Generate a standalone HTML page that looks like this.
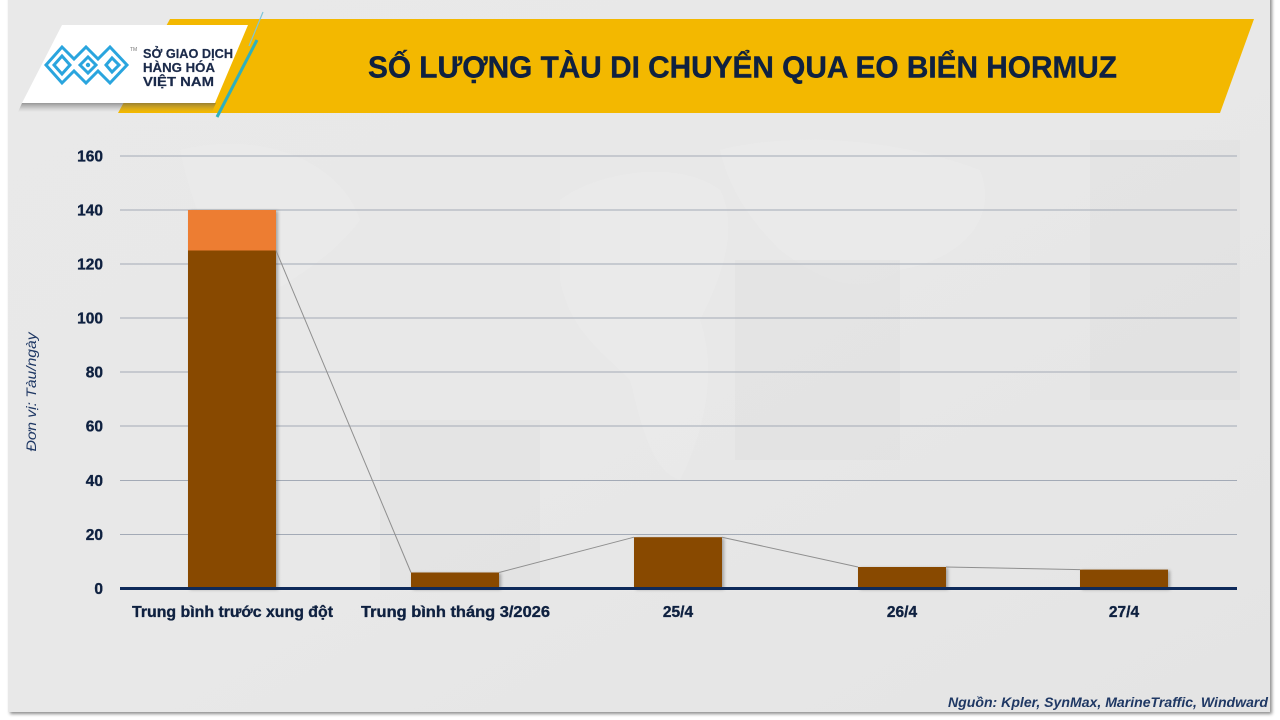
<!DOCTYPE html>
<html>
<head>
<meta charset="utf-8">
<style>
html,body{margin:0;padding:0;background:#ffffff;}
body{width:1280px;height:720px;overflow:hidden;}
svg{display:block;}
</style>
</head>
<body>
<svg width="1280" height="720" viewBox="0 0 1280 720" xmlns="http://www.w3.org/2000/svg">
  <defs>
    <linearGradient id="bg" x1="0" y1="0" x2="1" y2="1">
      <stop offset="0" stop-color="#e9e9e9"/>
      <stop offset="0.5" stop-color="#e8e8e8"/>
      <stop offset="1" stop-color="#e4e4e4"/>
    </linearGradient>
    <linearGradient id="shadowGrad" x1="0" y1="0" x2="0" y2="1">
      <stop offset="0" stop-color="#555" stop-opacity="0.7"/>
      <stop offset="1" stop-color="#888" stop-opacity="0"/>
    </linearGradient>
    <filter id="barShadow" x="-10%" y="-10%" width="130%" height="130%">
      <feDropShadow dx="2" dy="1" stdDeviation="1.5" flood-color="#000" flood-opacity="0.3"/>
    </filter>
    <filter id="cardShadow" x="-5%" y="-5%" width="110%" height="110%">
      <feDropShadow dx="2" dy="2" stdDeviation="1.5" flood-color="#000" flood-opacity="0.45"/>
    </filter>
  </defs>

  <!-- card -->
  <rect x="8" y="-5" width="1262" height="717" fill="url(#bg)" filter="url(#cardShadow)"/>

  <!-- faint map-like lighter shapes -->
  <g fill="#efefef" opacity="0.35">
    <path d="M560,200 C600,170 680,160 720,190 C740,230 720,280 700,320 C720,380 700,440 680,480 C650,470 640,420 630,380 C600,350 570,330 560,280 Z"/>
    <path d="M720,150 C800,130 900,140 980,170 C1000,220 960,260 900,270 C860,300 820,280 780,250 C750,220 730,190 720,150 Z"/>
    <path d="M180,150 C260,130 340,160 360,220 C330,260 290,280 260,300 C230,280 200,240 180,150 Z"/>
  </g>
  <g fill="#dcdcdc" opacity="0.3">
    <rect x="735" y="260" width="165" height="200"/>
    <rect x="380" y="420" width="160" height="170"/>
    <rect x="1090" y="140" width="150" height="260"/>
  </g>

  <!-- yellow banner -->
  <polygon points="170,19 1254,19 1220,113 118,113" fill="#f3b800"/>

  <!-- white logo plate with shadow -->
  <polygon points="22,103 216,103 212,112 18,112" fill="url(#shadowGrad)" opacity="0.8"/>
  <polygon points="62,25 248,25 215,103 22,103" fill="#ffffff"/>

  <!-- teal lines -->
  <line x1="263" y1="12" x2="249" y2="46" stroke="#7fc6d8" stroke-width="1.2"/>
  <line x1="257" y1="40" x2="217" y2="117" stroke="#2fb0bd" stroke-width="3"/>

  <!-- logo icon -->
  <g fill="none" stroke="#2aa5de" stroke-width="3" stroke-linejoin="miter">
    <path d="M46,65 L62,47 L74,59 L86,47 L98,59 L110,47 L127,65 L110,83 L98,71 L86,83 L74,71 L62,83 Z"/>
    <path d="M54,65 L62,56 L70,65 L62,74 Z"/>
    <path d="M80,65 L88,57 L96,65 L88,73 Z"/>
    <path d="M106,65 L112,58 L119,65 L112,72 Z"/>
  </g>
  <circle cx="88" cy="65" r="2.2" fill="#2aa5de"/>
  <text x="130" y="51" font-family="Liberation Sans, sans-serif" font-size="5" fill="#777">TM</text>

  <!-- logo text -->
  <g font-family="Liberation Sans, sans-serif" font-size="13" font-weight="bold" fill="#1b2a4a" stroke="#1b2a4a" stroke-width="0.2">
    <text x="143" y="58" textLength="90" lengthAdjust="spacingAndGlyphs">SỞ GIAO DỊCH</text>
    <text x="143" y="72" textLength="72" lengthAdjust="spacingAndGlyphs">HÀNG HÓA</text>
    <text x="143" y="86" textLength="71" lengthAdjust="spacingAndGlyphs">VIỆT NAM</text>
  </g>

  <!-- title -->
  <text x="368" y="77.5" font-family="Liberation Sans, sans-serif" font-size="30.5" font-weight="bold" fill="#0f2140" stroke="#0f2140" stroke-width="0.4" textLength="749" lengthAdjust="spacingAndGlyphs">SỐ LƯỢNG TÀU DI CHUYỂN QUA EO BIỂN HORMUZ</text>

  <!-- gridlines -->
  <g stroke="#a3aab6" stroke-width="1">
    <line x1="120" y1="156" x2="1237" y2="156"/>
    <line x1="120" y1="210" x2="1237" y2="210"/>
    <line x1="120" y1="264" x2="1237" y2="264"/>
    <line x1="120" y1="318" x2="1237" y2="318"/>
    <line x1="120" y1="372" x2="1237" y2="372"/>
    <line x1="120" y1="426" x2="1237" y2="426"/>
    <line x1="120" y1="480.5" x2="1237" y2="480.5"/>
    <line x1="120" y1="534.5" x2="1237" y2="534.5"/>
  </g>

  <!-- y labels -->
  <g font-family="Liberation Sans, sans-serif" font-size="15.5" font-weight="bold" fill="#0f2140" stroke="#0f2140" stroke-width="0.35" text-anchor="end">
    <text x="103" y="161.5">160</text>
    <text x="103" y="215.5">140</text>
    <text x="103" y="269.5">120</text>
    <text x="103" y="323.5">100</text>
    <text x="103" y="377.5">80</text>
    <text x="103" y="431.5">60</text>
    <text x="103" y="486">40</text>
    <text x="103" y="540">20</text>
    <text x="103" y="594">0</text>
  </g>

  <!-- y-axis title -->
  <text transform="translate(36,392) rotate(-90)" text-anchor="middle" font-family="Liberation Sans, sans-serif" font-size="14" font-style="italic" fill="#1f3864" textLength="119" lengthAdjust="spacingAndGlyphs">Đơn vị: Tàu/ngày</text>

  <!-- bars -->
  <g filter="url(#barShadow)">
    <rect x="188" y="210" width="88" height="40.5" fill="#ed7d31"/>
    <rect x="188" y="250.5" width="88" height="338" fill="#884a03"/>
    <rect x="411" y="572.5" width="88" height="16" fill="#884a03"/>
    <rect x="634" y="537.2" width="88" height="51.3" fill="#884a03"/>
    <rect x="858" y="567" width="88" height="21.5" fill="#884a03"/>
    <rect x="1080" y="569.6" width="88" height="19" fill="#884a03"/>
  </g>

  <!-- connector lines -->
  <g stroke="#8f8f8f" stroke-width="1" fill="none">
    <line x1="276" y1="250.5" x2="411" y2="572.5"/>
    <line x1="499" y1="572.5" x2="634" y2="537.2"/>
    <line x1="722" y1="537.2" x2="858" y2="567"/>
    <line x1="946" y1="567" x2="1080" y2="569.6"/>
  </g>

  <!-- axis line -->
  <line x1="120" y1="588.5" x2="1237" y2="588.5" stroke="#0e2a5a" stroke-width="3"/>

  <!-- category labels -->
  <g font-family="Liberation Sans, sans-serif" font-size="15.5" font-weight="bold" fill="#0f2140" stroke="#0f2140" stroke-width="0.35" text-anchor="middle">
    <text x="232.5" y="617" textLength="201" lengthAdjust="spacingAndGlyphs">Trung bình trước xung đột</text>
    <text x="455.5" y="617" textLength="189" lengthAdjust="spacingAndGlyphs">Trung bình tháng 3/2026</text>
    <text x="678" y="617">25/4</text>
    <text x="902" y="617">26/4</text>
    <text x="1124" y="617">27/4</text>
  </g>

  <!-- source -->
  <text x="1268" y="707" text-anchor="end" font-family="Liberation Sans, sans-serif" font-size="14" font-weight="bold" font-style="italic" fill="#1f3864" textLength="320" lengthAdjust="spacingAndGlyphs">Nguồn: Kpler, SynMax, MarineTraffic,  Windward</text>
</svg>
</body>
</html>
